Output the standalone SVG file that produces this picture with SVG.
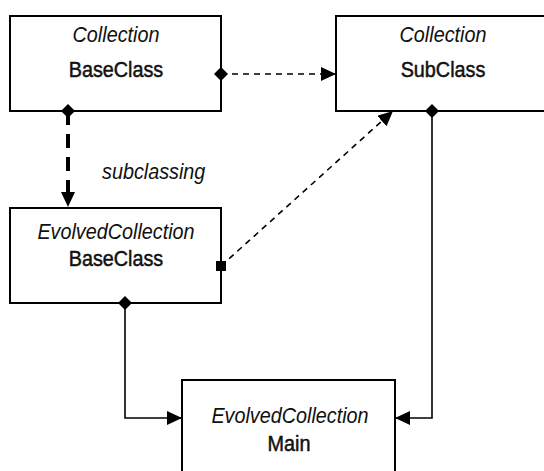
<svg xmlns="http://www.w3.org/2000/svg" width="544" height="471" viewBox="0 0 544 471">
  <style>
    .box { fill: #fff; stroke: #000; stroke-width: 2; }
    text { font-family: "Liberation Sans", Arial, sans-serif; fill: #111; }
    .pkg { font-style: italic; font-size: 22px; text-anchor: middle; }
    .cls { font-size: 22px; text-anchor: middle; stroke: #111; stroke-width: 0.5; }
    .label { font-style: italic; font-size: 22px; }
    .link { fill: none; stroke: #000; stroke-width: 1.6; }
    .dash { stroke-dasharray: 6 5; }
    .thick { fill: none; stroke: #000; stroke-width: 4; stroke-dasharray: 14 9; }
  </style>
  <defs>
    <marker id="arrow" markerUnits="userSpaceOnUse" markerWidth="15" markerHeight="14" viewBox="0 0 15 14" refX="15" refY="7" orient="auto">
      <path d="M0,0 L15,7 L0,14 z" fill="#000"/>
    </marker>
    <marker id="arrowThick" markerUnits="userSpaceOnUse" markerWidth="15" markerHeight="14" viewBox="0 0 15 14" refX="4" refY="7" orient="auto">
      <path d="M0,0 L15,7 L0,14 z" fill="#000"/>
    </marker>
    <marker id="diamond" markerUnits="userSpaceOnUse" markerWidth="14" markerHeight="14" viewBox="0 0 14 14" refX="7" refY="7" orient="auto">
      <path d="M0,7 L7,0 L14,7 L7,14 z" fill="#000"/>
    </marker>
    <marker id="square" markerUnits="userSpaceOnUse" markerWidth="10" markerHeight="10" viewBox="0 0 10 10" refX="5" refY="5" orient="0">
      <rect x="0" y="0" width="10" height="10" fill="#000"/>
    </marker>
  </defs>

  <!-- class boxes; labels use a slightly condensed face -->
  <g id="collection-baseclass">
    <rect class="box" x="10" y="16" width="211" height="95"/>
    <text class="pkg" transform="translate(116,42) scale(0.9,1)">Collection</text>
    <text class="cls" transform="translate(116,77) scale(0.9,1)">BaseClass</text>
  </g>
  <g id="collection-subclass">
    <rect class="box" x="336" y="16" width="214" height="95"/>
    <text class="pkg" transform="translate(443,42) scale(0.9,1)">Collection</text>
    <text class="cls" transform="translate(443,77) scale(0.9,1)">SubClass</text>
  </g>
  <g id="evolved-baseclass">
    <rect class="box" x="10" y="208" width="211" height="95"/>
    <text class="pkg" transform="translate(116,239) scale(0.9,1)">EvolvedCollection</text>
    <text class="cls" transform="translate(116,266) scale(0.9,1)">BaseClass</text>
  </g>
  <g id="evolved-main">
    <rect class="box" x="182" y="380" width="213" height="100"/>
    <text class="pkg" transform="translate(290,423) scale(0.9,1)">EvolvedCollection</text>
    <text class="cls" transform="translate(289,451) scale(0.9,1)">Main</text>
  </g>

  <!-- relations -->
  <g id="connectors">
    <path class="link dash" d="M221,74 L336,74" marker-start="url(#diamond)" marker-end="url(#arrow)"/>
    <path class="thick" d="M68,111 L68,196" marker-start="url(#diamond)" marker-end="url(#arrowThick)"/>
    <path class="link dash" d="M221,266 L393,111" marker-start="url(#square)" marker-end="url(#arrow)"/>
    <path class="link" d="M432,111 L432,418 L395,418" marker-start="url(#diamond)" marker-end="url(#arrow)"/>
    <path class="link" d="M125,303 L125,418 L182,418" marker-start="url(#diamond)" marker-end="url(#arrow)"/>
    <text class="label" transform="translate(102,179) scale(0.9,1)">subclassing</text>
  </g>
</svg>
